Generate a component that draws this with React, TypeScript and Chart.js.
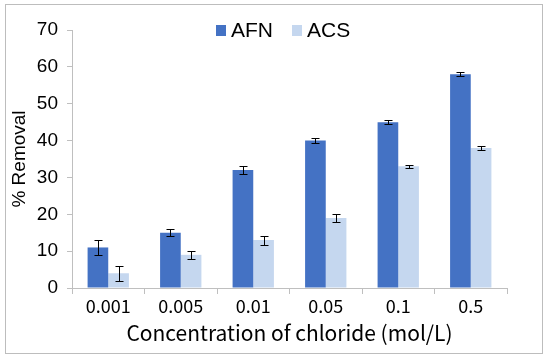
import React, { useEffect, useRef } from "react";
import { Chart, registerables } from "chart.js";

Chart.register(...registerables);

const categories = ["0.001", "0.005", "0.01", "0.05", "0.1", "0.5"];
const afnValues = [11, 15, 32, 40, 45, 58];
const acsValues = [4, 9, 13, 19, 33, 38];
const afnErrors = [2, 1, 1, 0.6, 0.5, 0.5];
const acsErrors = [2, 1, 1.2, 1, 0.5, 0.5];
const yTicks = [0, 10, 20, 30, 40, 50, 60, 70];

const AFN_COLOR = "#4472C4";
const ACS_COLOR = "#C5D7EF";
const FONT = "'Liberation Sans', Arial, sans-serif";
const FONT_X = "'Noto Sans CJK SC', 'Noto Sans', sans-serif";

const errorBarPlugin = {
  id: "errorBars",
  afterDatasetsDraw(chart: any) {
    const ctx = chart.ctx;
    const yScale = chart.scales.y;
    chart.data.datasets.forEach((ds: any, di: number) => {
      const meta = chart.getDatasetMeta(di);
      const errs: number[] = ds.errors || [];
      meta.data.forEach((bar: any, i: number) => {
        const v = ds.data[i];
        const e = errs[i] || 0;
        const x = Math.round(bar.x) + 0.5;
        const yTop = Math.round(yScale.getPixelForValue(v + e)) + 0.5;
        const yBot = Math.round(yScale.getPixelForValue(v - e)) + 0.5;
        ctx.save();
        ctx.strokeStyle = "#000";
        ctx.lineWidth = 1;
        ctx.beginPath();
        ctx.moveTo(x, yTop);
        ctx.lineTo(x, yBot);
        ctx.moveTo(x - 4, yTop);
        ctx.lineTo(x + 4, yTop);
        ctx.moveTo(x - 4, yBot);
        ctx.lineTo(x + 4, yBot);
        ctx.stroke();
        ctx.restore();
      });
    });
  },
};

const legendPlugin = {
  id: "customLegend",
  afterDraw(chart: any) {
    const ctx = chart.ctx;
    ctx.save();
    ctx.font = `21px ${FONT}`;
    ctx.textBaseline = "middle";
    const y = 30;
    let x = 216;
    chart.data.datasets.forEach((ds: any) => {
      ctx.fillStyle = ds.backgroundColor;
      ctx.fillRect(x, y - 5, 10, 11);
      ctx.fillStyle = "#000";
      ctx.fillText(ds.label, x + 15, y + 1);
      const w = ctx.measureText(ds.label).width;
      x += 15 + w + 19;
    });
    ctx.restore();
  },
};

export default function App() {
  const ref = useRef<HTMLCanvasElement>(null);
  useEffect(() => {
    if (!ref.current) return;
    const chart = new Chart(ref.current, {
      type: "bar",
      data: {
        labels: categories,
        datasets: [
          {
            label: "AFN",
            data: afnValues,
            backgroundColor: AFN_COLOR,
            errors: afnErrors,
          } as any,
          {
            label: "ACS",
            data: acsValues,
            backgroundColor: ACS_COLOR,
            errors: acsErrors,
          } as any,
        ],
      },
      options: {
        animation: false,
        responsive: false,
        maintainAspectRatio: false,
        layout: { padding: { left: 0, right: 43, top: 30, bottom: 0 } },
        plugins: {
          legend: { display: false },
          tooltip: { enabled: false },
        },
        datasets: {
          bar: { categoryPercentage: 0.57, barPercentage: 1 },
        },
        scales: {
          x: {
            afterFit(axis: any) {
              axis.height = 72;
            },
            grid: {
              display: true,
              drawOnChartArea: false,
              drawTicks: true,
              tickLength: 6,
              color: "#BFBFBF",
              offset: true,
            },
            border: { color: "#BFBFBF", width: 1 },
            ticks: {
              color: "#000",
              font: { family: FONT_X, size: 18 },
              padding: 1,
            },
            title: {
              display: true,
              text: "Concentration of chloride (mol/L)",
              color: "#000",
              font: { family: FONT_X, size: 21 },
              padding: { top: 0, bottom: 14 },
            },
          },
          y: {
            min: 0,
            max: 70,
            afterFit(axis: any) {
              axis.width = 72;
            },
            afterBuildTicks(axis: any) {
              axis.ticks = yTicks.map((v) => ({ value: v }));
            },
            grid: {
              display: true,
              drawOnChartArea: false,
              drawTicks: true,
              tickLength: 5,
              color: "#BFBFBF",
            },
            border: { color: "#BFBFBF", width: 1 },
            ticks: {
              color: "#000",
              font: { family: FONT, size: 19 },
              padding: 9,
            },
            title: {
              display: true,
              text: "% Removal",
              color: "#000",
              font: { family: FONT, size: 19 },
              padding: { top: 8, bottom: 0 },
            },
          },
        },
      },
      plugins: [errorBarPlugin, legendPlugin],
    });
    return () => chart.destroy();
  }, []);

  return (
    <div style={{ position: "fixed", left: 0, top: 0, width: 550, height: 360, background: "#fff" }}>
      <div
        style={{
          position: "absolute",
          left: 5,
          top: 4,
          width: 536,
          height: 348,
          border: "1.5px solid #BDBDBD",
          boxSizing: "content-box",
        }}
      />
      <canvas
        ref={ref}
        width={550}
        height={360}
        style={{ position: "absolute", left: 0, top: 0, width: 550, height: 360 }}
      />
    </div>
  );
}
